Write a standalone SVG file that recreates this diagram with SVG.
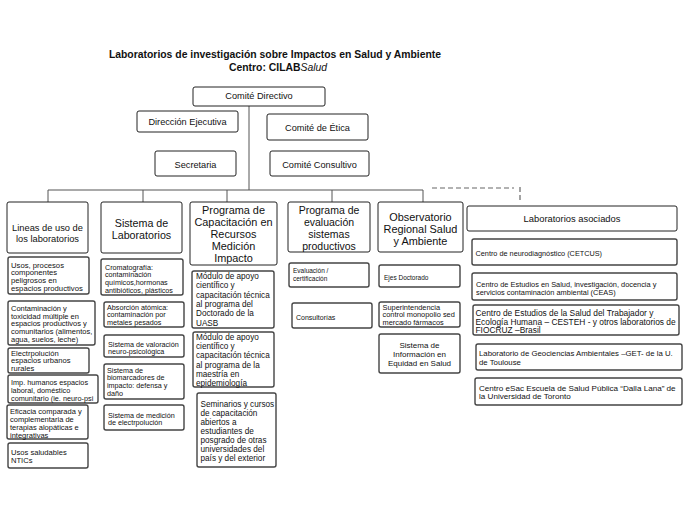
<svg xmlns="http://www.w3.org/2000/svg" width="689" height="517" viewBox="0 0 689 517">
<style>
text{font-family:"Liberation Sans",Arial,sans-serif;fill:#111}
.t{font-weight:bold;font-size:10.4px}
.h{fill:#fff;stroke:#222;stroke-width:1}
.c{fill:#fff;stroke:#444;stroke-width:1.4}
.top{font-size:9.2px;text-anchor:middle}
.hd{font-size:10.7px;text-anchor:middle}
.cn{stroke:#555;stroke-width:1;fill:none}
.ds{stroke:#666;stroke-width:1.2;fill:none;stroke-dasharray:5 3}
</style>
<rect width="689" height="517" fill="#fff"/>
<g id="title">
<text class="t" x="275" y="58" text-anchor="middle">Laboratorios de investigación sobre Impactos en Salud y Ambiente</text>
<text class="t" x="278" y="71" text-anchor="middle">Centro: CILAB<tspan font-style="italic" font-weight="normal">Salud</tspan></text>
</g>
<g id="connectors">
<path class="cn" d="M249 106V190M48 190H423M48 190V202M143 190V202M227 190V202M332 190V202M423 190V202"/>
<path class="ds" d="M432 188H514M520 187V201"/>
</g>
<g id="comite-directivo"><rect class="h" x="193" y="87" width="132" height="19" rx="2"/><text class="top" x="259" y="99.3">Comité Directivo</text></g>
<g id="direccion-ejecutiva"><rect class="h" x="137" y="111" width="101" height="21" rx="2"/><text class="top" x="187.5" y="124.7">Dirección Ejecutiva</text></g>
<g id="comite-etica"><rect class="h" x="267" y="114" width="101" height="26" rx="2"/><text class="top" x="317.5" y="131">Comité de Ética</text></g>
<g id="secretaria"><rect class="h" x="155" y="151" width="81" height="25" rx="2"/><text class="top" x="195.5" y="167.5">Secretaria</text></g>
<g id="comite-consultivo"><rect class="h" x="270" y="151" width="99" height="25" rx="2"/><text class="top" x="319.5" y="167.5">Comité Consultivo</text></g>

<g id="lineas"><rect class="h" x="7" y="202" width="81" height="51" rx="2"/><text class="hd" style="font-size:9.3px"><tspan x="47.5" y="231.2">Lineas de uso de</tspan><tspan x="47.5" y="242.2">los laboratorios</tspan></text></g>
<g id="sistema-lab"><rect class="h" x="101" y="202" width="81" height="51" rx="2"/><text class="hd"><tspan x="141.5" y="226.7">Sistema de</tspan><tspan x="141.5" y="238.7">Laboratorios</tspan></text></g>
<g id="programa-capacitacion"><rect class="h" x="190" y="202" width="87" height="63" rx="2"/><text class="hd" style="font-size:10.9px"><tspan x="233.5" y="213.8">Programa de</tspan><tspan x="233.5" y="225.8">Capacitación en</tspan><tspan x="233.5" y="237.8">Recursos</tspan><tspan x="233.5" y="249.8">Medición</tspan><tspan x="233.5" y="261.8">Impacto</tspan></text></g>
<g id="programa-evaluacion"><rect class="h" x="288" y="202" width="82" height="50" rx="2"/><text class="hd" style="font-size:10.5px"><tspan x="329" y="213.7">Programa de</tspan><tspan x="329" y="225.7">evaluación</tspan><tspan x="329" y="237.7">sistemas</tspan><tspan x="329" y="249.7">productivos</tspan></text></g>
<g id="observatorio"><rect class="h" x="378" y="202" width="85" height="50" rx="2"/><text class="hd" style="font-size:10.9px"><tspan x="420.5" y="220.8">Observatorio</tspan><tspan x="420.5" y="232.8">Regional Salud</tspan><tspan x="420.5" y="245.3">y Ambiente</tspan></text></g>
<g id="laboratorios-asociados"><rect class="h" x="467" y="206" width="210" height="25" rx="2"/><text class="hd" style="font-size:9.4px" x="572" y="222.3">Laboratorios asociados</text></g>

<g id="l1"><rect class="c" x="8" y="257" width="81" height="37" rx="2"/><text style="font-size:7.7px"><tspan x="11" y="267.8">Usos, procesos</tspan><tspan x="11" y="275.4">componentes</tspan><tspan x="11" y="283">peligrosos en</tspan><tspan x="11" y="290.6">espacios productivos</tspan></text></g>
<g id="l2"><rect class="c" x="8" y="301" width="87" height="44" rx="2"/><text style="font-size:7.5px"><tspan x="11" y="310.7">Contaminación y</tspan><tspan x="11" y="318.5">toxicidad múltiple en</tspan><tspan x="11" y="326.3">espacios productivos y</tspan><tspan x="11" y="334.1">comunitarios (alimentos,</tspan><tspan x="11" y="341.9">agua, suelos, leche)</tspan></text></g>
<g id="l3"><rect class="c" x="8" y="348" width="81" height="25" rx="2"/><text style="font-size:7.6px"><tspan x="11" y="355.7">Electrpolución</tspan><tspan x="11" y="363.4">espacios urbanos</tspan><tspan x="11" y="371.1">rurales</tspan></text></g>
<g id="l4"><rect class="c" x="8" y="375" width="90" height="28" rx="2"/><text style="font-size:7.3px"><tspan x="11" y="384.7">Imp. humanos espacios</tspan><tspan x="11" y="392.7">laboral, doméstico</tspan><tspan x="11" y="400.7">comunitario (ie. neuro-psi</tspan></text></g>
<g id="l5"><rect class="c" x="7" y="405" width="81" height="34" rx="2"/><text style="font-size:7.5px"><tspan x="10" y="413.7">Eficacia comparada y</tspan><tspan x="10" y="421.7">complementaria de</tspan><tspan x="10" y="429.7">terapias alopáticas e</tspan><tspan x="10" y="437.7">integrativas</tspan></text></g>
<g id="l6"><rect class="c" x="8" y="443" width="80" height="25" rx="2"/><text style="font-size:7.6px"><tspan x="11" y="454.7">Usos saludables</tspan><tspan x="11" y="462.7">NTICs</tspan></text></g>

<g id="s1"><rect class="c" x="101" y="259" width="82" height="36" rx="2"/><text style="font-size:7.2px"><tspan x="105" y="269.5">Cromatografía:</tspan><tspan x="105" y="277.2">contaminación</tspan><tspan x="105" y="284.9">químicos,hormonas</tspan><tspan x="105" y="292.6">antibióticos, plásticos</tspan></text></g>
<g id="s2"><rect class="c" x="104" y="302" width="80" height="25" rx="2"/><text style="font-size:7.2px"><tspan x="107" y="309.5">Absorción atómica:</tspan><tspan x="107" y="317.3">contaminación por</tspan><tspan x="107" y="325.1">metales pesados</tspan></text></g>
<g id="s3"><rect class="c" x="104" y="335" width="80" height="22" rx="2"/><text style="font-size:7.2px"><tspan x="108" y="346.5">Sistema de valoración</tspan><tspan x="108" y="354.3">neuro-psicológica</tspan></text></g>
<g id="s4"><rect class="c" x="104" y="364" width="80" height="35" rx="2"/><text style="font-size:7.2px"><tspan x="107" y="372.5">Sistema de</tspan><tspan x="107" y="380.2">biomarcadores de</tspan><tspan x="107" y="387.9">impacto: defensa y</tspan><tspan x="107" y="395.6">daño</tspan></text></g>
<g id="s5"><rect class="c" x="104" y="405" width="80" height="25" rx="2"/><text style="font-size:7.2px"><tspan x="108" y="417.5">Sistema de medición</tspan><tspan x="108" y="425.3">de electrpolución</tspan></text></g>

<g id="p1"><rect class="c" x="192" y="271" width="82" height="57" rx="2"/><text style="font-size:8.2px"><tspan x="196" y="279">Módulo de apoyo</tspan><tspan x="196" y="288.3">científico y</tspan><tspan x="196" y="297.6">capacitación técnica</tspan><tspan x="196" y="306.9">al programa del</tspan><tspan x="196" y="316.2">Doctorado de la</tspan><tspan x="196" y="325.5">UASB</tspan></text></g>
<g id="p2"><rect class="c" x="193" y="332" width="81" height="55" rx="2"/><text style="font-size:8.2px"><tspan x="196" y="340">Módulo de apoyo</tspan><tspan x="196" y="349.2">científico y</tspan><tspan x="196" y="358.4">capacitación técnica</tspan><tspan x="196" y="367.6">al programa de la</tspan><tspan x="196" y="376.8">maestría en</tspan><tspan x="196" y="386">epidemiología</tspan></text></g>
<g id="p3"><rect class="c" x="197" y="393" width="79" height="74" rx="2"/><text style="font-size:8.2px"><tspan x="200.5" y="407">Seminarios y cursos</tspan><tspan x="200.5" y="416">de capacitación</tspan><tspan x="200.5" y="425">abiertos a</tspan><tspan x="200.5" y="434">estudiantes de</tspan><tspan x="200.5" y="443">posgrado de otras</tspan><tspan x="200.5" y="452">universidades del</tspan><tspan x="200.5" y="461">país y del exterior</tspan></text></g>

<g id="e1"><rect class="c" x="289" y="263" width="80" height="24" rx="2"/><text style="font-size:6.5px"><tspan x="293" y="273.3">Evaluación /</tspan><tspan x="293" y="280.5">certificación</tspan></text></g>
<g id="e2"><rect class="c" x="292" y="303" width="80" height="25" rx="2"/><text style="font-size:7px" x="296" y="319.5">Consultorías</text></g>

<g id="o1"><rect class="c" x="379" y="265" width="81" height="22" rx="2"/><text style="font-size:6.5px" x="384" y="280.3">Ejes Doctorado</text></g>
<g id="o2"><rect class="c" x="379" y="302" width="81" height="25" rx="2"/><text style="font-size:7.4px"><tspan x="382.5" y="309.6">Superintendencia</tspan><tspan x="382.5" y="317.2">control monopolio sed</tspan><tspan x="382.5" y="324.8">mercado fármacos</tspan></text></g>
<g id="o3"><rect class="c" x="379" y="334" width="81" height="39" rx="2"/><text style="font-size:8px;text-anchor:middle"><tspan x="419.5" y="347.8">Sistema de</tspan><tspan x="419.5" y="356.8">Información en</tspan><tspan x="419.5" y="365.8">Equidad en Salud</tspan></text></g>

<g id="a1"><rect class="c" x="472" y="239" width="205" height="26" rx="2"/><text style="font-size:7.3px" x="475.5" y="255.5">Centro de neurodiagnóstico (CETCUS)</text></g>
<g id="a2"><rect class="c" x="472" y="273" width="205" height="27" rx="2"/><text style="font-size:7.4px"><tspan x="476" y="286.5">Centro de Estudios  en Salud, investigación, docencia y</tspan><tspan x="476" y="294.8">servicios contaminación ambiental (CEAS)</tspan></text></g>
<g id="a3"><rect class="c" x="473" y="305" width="206" height="30" rx="2"/><text style="font-size:8.4px"><tspan x="475.5" y="315.7">Centro de Estudios de la Salud del Trabajador y</tspan><tspan x="475.5" y="324.5">Ecología Humana – CESTEH - y otros laboratorios de</tspan><tspan x="475.5" y="333.3">FIOCRUZ –Brasil</tspan></text></g>
<g id="a4"><rect class="c" x="476" y="344" width="206" height="26" rx="2"/><text style="font-size:7.8px"><tspan x="479" y="355.9">Laboratorio de Geociencias Ambientales –GET- de la U.</tspan><tspan x="479" y="364.9">de Toulouse</tspan></text></g>
<g id="a5"><rect class="c" x="475" y="378" width="207" height="27" rx="2"/><text style="font-size:8.1px"><tspan x="479" y="390.9">Centro eSac Escuela de Salud Pública “Dalla Lana” de</tspan><tspan x="479" y="399.2">la Universidad de Toronto</tspan></text></g>
</svg>
